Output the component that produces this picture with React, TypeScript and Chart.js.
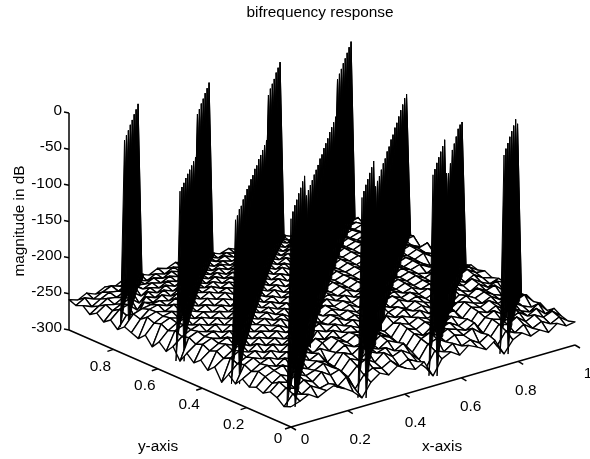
import React, { useEffect, useRef } from "react";
import { Chart, registerables } from "chart.js";

Chart.register(...registerables);

const chartTitle = "bifrequency response";
const xAxisTitle = "x-axis";
const yAxisTitle = "y-axis";
const zAxisTitle = "magnitude in dB";
const xTicks = [0, 0.2, 0.4, 0.6, 0.8, 1];
const yTicks = [0, 0.2, 0.4, 0.6, 0.8];
const zTicks = [0, -50, -100, -150, -200, -250, -300];

// Surface magnitude in dB: one row per y step (front to back), one column per x step.
const surfaceDb: number[][] = [
  [-272,-268,-262,-270,-264,-259,-268,-276,-288,-270,-261,-267,-258,-265,-270,-263,-286,-266,-260,-268,-258,-264,-271,-262,-284,-268,-262,-270,-265,-272,-263,-270,-268],
  [-276,-262,-266,-258,-265,-262,-270,-260,-280,-264,-258,-262,-255,-266,-260,-267,-279,-259,-264,-256,-263,-258,-266,-258,-277,-260,-266,-258,-267,-261,-268,-262,-271],
  [-268,-258,-262,-254,-260,-250,-258,-254,-268,-256,-250,-258,-248,-257,-252,-260,-272,-254,-250,-258,-252,-256,-250,-260,-270,-255,-259,-252,-262,-256,-263,-258,-268],
  [-264,-254,-258,-250,-256,-252,-246,-255,-264,-250,-256,-247,-253,-249,-257,-250,-266,-251,-246,-254,-248,-252,-257,-250,-268,-252,-256,-260,-253,-262,-255,-266,-262],
  [-270,-260,-252,-257,-249,-254,-247,-251,-262,-246,-252,-244,-250,-255,-247,-253,-264,-248,-254,-245,-251,-247,-255,-249,-266,-254,-248,-257,-251,-259,-264,-256,-269],
  [-266,-255,-250,-246,-253,-245,-250,-244,-260,-250,-243,-249,-246,-252,-244,-250,-262,-245,-250,-243,-248,-253,-246,-252,-264,-250,-255,-249,-258,-252,-260,-265,-263],
  [-270,-252,-247,-252,-244,-249,-242,-248,-245,-252,-241,-247,-240,-246,-243,-250,-258,-242,-247,-241,-246,-243,-250,-245,-260,-248,-252,-246,-254,-249,-257,-252,-265],
  [-263,-256,-249,-244,-250,-243,-247,-241,-256,-245,-240,-246,-241,-244,-239,-247,-254,-246,-240,-245,-239,-247,-242,-249,-256,-245,-250,-254,-248,-256,-250,-262,-260],
  [-274,-251,-245,-250,-242,-248,-240,-246,-252,-243,-248,-239,-245,-240,-246,-241,-256,-240,-246,-238,-244,-240,-247,-243,-258,-250,-244,-251,-246,-253,-258,-251,-263],
  [-265,-254,-248,-243,-249,-241,-246,-239,-245,-256,-240,-245,-238,-244,-239,-245,-241,-254,-243,-239,-245,-238,-243,-248,-245,-256,-247,-252,-245,-252,-248,-259,-258],
  [-280,-250,-244,-249,-241,-247,-240,-245,-239,-250,-244,-238,-243,-237,-244,-240,-246,-250,-238,-244,-237,-243,-239,-246,-241,-252,-243,-249,-254,-247,-255,-250,-256],
  [-263,-255,-247,-242,-248,-240,-245,-238,-244,-240,-254,-239,-244,-237,-242,-238,-244,-239,-252,-240,-236,-242,-238,-244,-240,-246,-254,-245,-250,-244,-252,-258,-254],
  [-272,-249,-243,-248,-241,-246,-239,-243,-238,-245,-248,-242,-236,-243,-237,-242,-238,-245,-240,-249,-243,-237,-243,-239,-245,-241,-250,-242,-248,-253,-246,-254,-257],
  [-262,-253,-246,-241,-247,-240,-244,-238,-243,-237,-244,-252,-238,-242,-236,-241,-237,-243,-238,-244,-251,-238,-242,-237,-244,-240,-246,-252,-244,-249,-243,-251,-252],
  [-270,-248,-243,-247,-240,-245,-238,-242,-237,-243,-238,-246,-247,-236,-242,-235,-241,-237,-243,-238,-245,-248,-241,-236,-242,-238,-245,-240,-250,-243,-251,-247,-255],
  [-261,-252,-245,-241,-246,-239,-244,-237,-242,-236,-243,-238,-244,-251,-237,-241,-236,-242,-237,-243,-238,-244,-250,-237,-241,-237,-243,-246,-241,-252,-245,-253,-252],
  [-276,-247,-242,-246,-239,-244,-237,-242,-236,-241,-237,-243,-238,-245,-246,-240,-235,-241,-236,-242,-237,-243,-239,-247,-243,-236,-242,-238,-245,-240,-248,-244,-256],
  [-260,-250,-244,-240,-245,-238,-243,-236,-241,-236,-242,-237,-243,-237,-244,-250,-236,-241,-235,-241,-236,-242,-238,-244,-249,-238,-242,-237,-244,-251,-245,-252,-254],
  [-271,-246,-241,-245,-238,-243,-237,-241,-235,-240,-236,-242,-237,-243,-238,-244,-247,-239,-235,-240,-236,-241,-237,-243,-238,-246,-241,-237,-243,-238,-246,-241,-258],
  [-262,-250,-243,-239,-244,-238,-242,-236,-241,-235,-241,-236,-242,-236,-243,-237,-244,-251,-236,-241,-235,-240,-236,-242,-237,-244,-249,-238,-242,-237,-245,-250,-255],
  [-273,-245,-240,-244,-237,-242,-236,-241,-235,-240,-235,-241,-236,-242,-237,-243,-238,-245,-246,-239,-234,-240,-235,-241,-237,-243,-238,-245,-240,-236,-243,-239,-260],
  [-261,-248,-242,-239,-243,-237,-242,-235,-240,-234,-240,-235,-241,-236,-242,-236,-243,-237,-244,-250,-235,-240,-234,-240,-236,-242,-237,-243,-248,-238,-243,-249,-257],
  [-270,-244,-240,-243,-237,-241,-235,-240,-234,-239,-235,-240,-236,-241,-236,-242,-237,-243,-238,-244,-246,-238,-234,-239,-235,-241,-236,-242,-237,-245,-240,-238,-262],
  [-266,-251,-241,-238,-243,-236,-241,-235,-239,-234,-240,-235,-240,-235,-241,-236,-242,-236,-243,-237,-244,-249,-236,-240,-234,-240,-235,-241,-236,-243,-248,-240,-258],
  [-262,-248,-244,-242,-240,-244,-237,-241,-236,-240,-235,-241,-236,-241,-236,-242,-237,-243,-238,-244,-239,-245,-246,-238,-235,-240,-236,-241,-237,-243,-238,-245,-263],
  [-270,-254,-262,-243,-247,-240,-245,-238,-243,-237,-242,-236,-242,-237,-243,-237,-243,-238,-244,-238,-245,-240,-246,-251,-237,-241,-236,-242,-237,-244,-239,-247,-260],
  [-261,-250,-247,-258,-243,-248,-241,-246,-240,-244,-238,-243,-238,-244,-239,-244,-239,-245,-240,-245,-240,-246,-241,-247,-248,-241,-238,-243,-239,-245,-240,-248,-264],
  [-268,-256,-250,-246,-256,-244,-249,-242,-247,-241,-245,-240,-245,-240,-245,-241,-246,-241,-246,-241,-247,-242,-247,-243,-249,-253,-240,-244,-240,-246,-242,-250,-261],
  [-260,-252,-255,-249,-245,-254,-246,-250,-244,-248,-242,-247,-243,-247,-242,-247,-243,-248,-243,-248,-244,-249,-244,-249,-245,-250,-250,-244,-241,-247,-243,-251,-265],
  [-266,-258,-251,-253,-248,-244,-252,-247,-251,-245,-249,-244,-248,-244,-249,-245,-249,-245,-250,-245,-250,-246,-251,-246,-251,-247,-252,-255,-243,-248,-245,-253,-262],
  [-258,-263,-256,-250,-252,-247,-251,-253,-248,-252,-246,-250,-246,-250,-245,-250,-246,-251,-247,-252,-247,-252,-248,-253,-248,-254,-249,-255,-252,-247,-250,-246,-266],
  [-262,-255,-260,-254,-249,-253,-248,-252,-256,-250,-254,-248,-252,-247,-252,-248,-253,-249,-254,-249,-255,-250,-256,-251,-257,-252,-258,-253,-259,-257,-251,-255,-263],
  [-258,-262,-256,-261,-255,-259,-253,-257,-251,-256,-250,-254,-249,-253,-248,-253,-250,-255,-251,-256,-252,-257,-253,-258,-254,-259,-255,-260,-256,-261,-257,-260,-262],
];

// Ridge crest heights in dB, one value per grid step along each diagonal, front to back.
const ridgeOffsets = [-24, -16, -8, 0, 8, 16, 24];
const ridgeM75 = [-4,-5,-6,-6,-7,-7,-8,-8,-250];
const ridgeM50 = [-41,-43,-45,-46,-48,-50,-52,-54,-56,-4,-5,-5,-6,-6,-7,-7,-250];
const ridgeM25 = [-47,-49,-48,-51,-50,-52,-51,-54,-53,-55,-54,-57,-56,-58,-59,-60,-61,-6,-5,-6,-7,-6,-7,-7,-252];
const ridge00 = [-12,-10,-9,-9,-8,-8,-7,-7,-42,-42,-43,-44,-44,-45,-46,-45,-47,-46,-47,-48,-47,-48,-49,-49,-5,-5,-6,-6,-7,-7,-7,-7,-255];
const ridgeP25 = [-11,-10,-9,-9,-8,-8,-7,-50,-50,-51,-50,-49,-50,-48,-49,-47,-48,-46,-47,-46,-45,-45,-44,-46,-255];
const ridgeP50 = [-8,-8,-7,-7,-7,-7,-6,-60,-68,-62,-51,-50,-48,-45,-47,-51,-258];
const ridgeP75 = [-9,-8,-8,-7,-7,-7,-6,-20,-262];
const ridgeCrests = [ridgeM75, ridgeM50, ridgeM25, ridge00, ridgeP25, ridgeP50, ridgeP75];

const GRID = 32;
const HALF_WIDTH = 0.008;

function project(x: number, y: number, z: number) {
  return { x: 291 + 284 * x - 222 * y, y: 427 - 82 * x - 97 * y - (z + 300) * 0.7233 };
}

function buildDatasets() {
  const items: { depth: number; pts: { x: number; y: number }[]; black: boolean }[] = [];
  const depthOf = (x: number, y: number) => 222 * x + 284 * y;

  for (let j = 0; j < GRID; j++) {
    for (let i = 0; i < GRID; i++) {
      const v = (a: number, b: number) => project(a / GRID, b / GRID, surfaceDb[b][a]);
      const p0 = v(i, j);
      items.push({
        depth: depthOf((i + 0.5) / GRID, (j + 0.5) / GRID),
        pts: [p0, v(i + 1, j), v(i + 1, j + 1), v(i, j + 1), p0],
        black: false,
      });
    }
  }

  ridgeOffsets.forEach((k, r) => {
    const crest = ridgeCrests[r];
    const startJ = k < 0 ? -k : 0;
    for (let s = 0; s < crest.length - 1; s++) {
      const j = startJ + s;
      const i = j + k;
      const x0 = i / GRID, y0 = j / GRID, x1 = (i + 1) / GRID, y1 = (j + 1) / GRID;
      const b0 = surfaceDb[j][i], b1 = surfaceDb[j + 1][i + 1];
      const first = project(x0 - HALF_WIDTH, y0 + HALF_WIDTH, b0);
      items.push({
        depth: depthOf((i + 0.5) / GRID, (j + 0.5) / GRID) - 0.01,
        pts: [
          first,
          project(x1 - HALF_WIDTH, y1 + HALF_WIDTH, b1),
          project(x1, y1, crest[s + 1]),
          project(x1 + HALF_WIDTH, y1 - HALF_WIDTH, b1),
          project(x0 + HALF_WIDTH, y0 - HALF_WIDTH, b0),
          project(x0, y0, crest[s]),
          first,
        ],
        black: true,
      });
    }
  });

  // front-most first: Chart.js paints the last dataset first
  items.sort((a, b) => a.depth - b.depth);

  const axisLine = (pts: { x: number; y: number }[]) => ({
    data: pts,
    showLine: true,
    fill: false,
    borderColor: "#000",
    borderWidth: 1.5,
    pointRadius: 0,
  });

  const axes = [
    axisLine([project(0, 1, -300), project(0, 0, -300), project(1, 0, -300)]),
    axisLine([project(0, 1, -300), project(0, 1, 0)]),
    ...xTicks.map((t) => {
      const p = project(t, 0, -300);
      return axisLine([p, { x: p.x + 5, y: p.y + 3 }]);
    }),
    ...yTicks.map((t) => {
      const p = project(0, t, -300);
      return axisLine([p, { x: p.x - 6, y: p.y + 2 }]);
    }),
    ...zTicks.map((t) => {
      const p = project(0, 1, t);
      return axisLine([p, { x: p.x - 5, y: p.y - 1 }]);
    }),
  ];

  const mesh = items.map((it) => ({
    data: it.pts,
    showLine: true,
    fill: "shape" as const,
    backgroundColor: it.black ? "#000" : "#fff",
    borderColor: "#000",
    borderWidth: it.black ? 1 : 1.35,
    pointRadius: 0,
    tension: 0,
  }));

  return [...axes, ...mesh];
}

const textPlugin = {
  id: "chartText",
  afterDraw(chart: Chart) {
    const { ctx, scales } = chart;
    const px = (v: number) => scales.x.getPixelForValue(v);
    const py = (v: number) => scales.y.getPixelForValue(v);
    const font = '15.4px "Liberation Sans", Arial, sans-serif';
    ctx.save();
    ctx.fillStyle = "#000";
    ctx.font = font;
    ctx.textBaseline = "middle";
    ctx.textAlign = "center";
    const put = (s: string, x: number, y: number) => ctx.fillText(s, px(x), py(y));

    put(chartTitle, 320, 13);
    put(yAxisTitle, 158, 447);
    put(xAxisTitle, 442, 447);

    xTicks.forEach((t) => {
      const p = project(t, 0, -300);
      put(String(t), p.x + (t === 1 ? 13 : 14 - t * 8), p.y + (t === 1 ? 13 : 13 + (t > 0 ? 17 * 0 : 0)) + (t === 0 ? 0 : 16 - 16 * 0));
    });
    yTicks.forEach((t) => {
      const p = project(0, t, -300);
      put(String(t), p.x - 13, p.y + (t === 0 ? 12 : 17));
    });

    ctx.textAlign = "right";
    zTicks.forEach((t) => {
      const p = project(0, 1, t);
      put(String(t), 62, p.y - 2);
    });

    ctx.save();
    ctx.translate(px(20), py(221));
    ctx.rotate(-Math.PI / 2);
    ctx.textAlign = "center";
    ctx.fillText(zAxisTitle, 0, 0);
    ctx.restore();
    ctx.restore();
  },
};

export default function App() {
  const ref = useRef<HTMLCanvasElement>(null);
  useEffect(() => {
    if (!ref.current) return;
    const chart = new Chart(ref.current, {
      type: "scatter",
      data: { datasets: buildDatasets() as any },
      options: {
        animation: false,
        responsive: false,
        events: [],
        layout: { padding: 0 },
        elements: { line: { tension: 0, borderJoinStyle: "round" } },
        plugins: { legend: { display: false }, tooltip: { enabled: false }, title: { display: false } },
        scales: {
          x: { type: "linear", min: 0, max: 590, display: false },
          y: { type: "linear", min: 0, max: 459, reverse: true, display: false },
        },
      },
      plugins: [textPlugin],
    });
    return () => chart.destroy();
  }, []);
  return (
    <div style={{ position: "absolute", left: 0, top: 0, width: 590, height: 459, background: "#fff" }}>
      <canvas ref={ref} width={590} height={459} style={{ display: "block" }} />
    </div>
  );
}
